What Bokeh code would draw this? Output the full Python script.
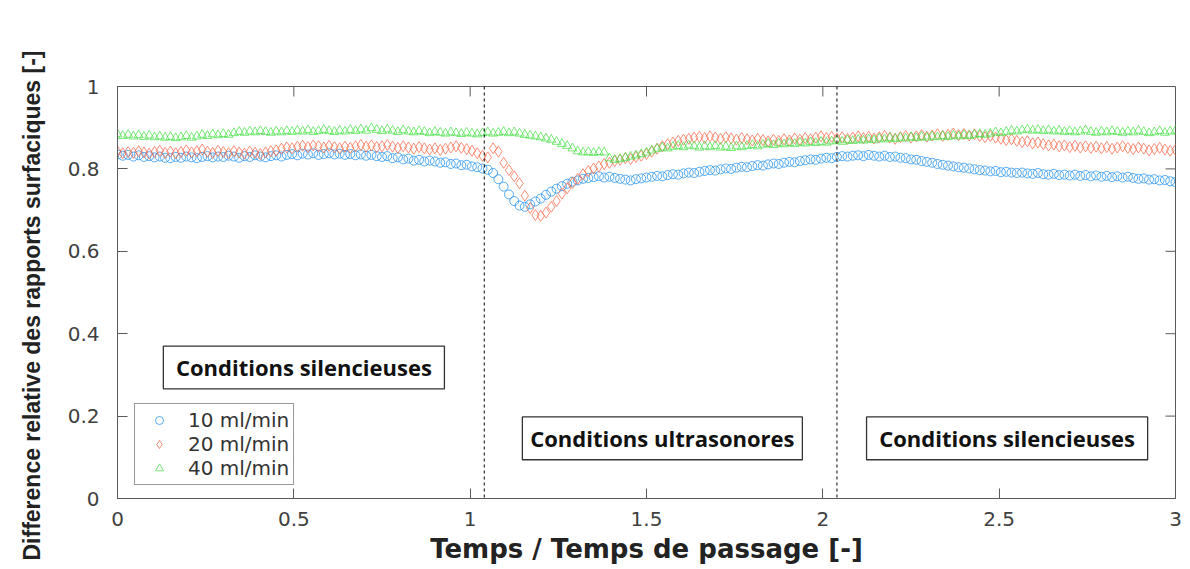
import numpy as np
from bokeh.plotting import figure
from bokeh.models import Span, Legend, LegendItem, ColumnDataSource, Range1d, Title
from bokeh.core.properties import value
from bokeh.embed import file_html
from bokeh.resources import INLINE

# ---------------- data ----------------
series_labels = ["10 ml/min", "20 ml/min", "40 ml/min"]

flow_10 = [
    0.835, 0.832, 0.834, 0.830, 0.833, 0.829, 0.831, 0.828, 0.830, 0.827,
    0.826, 0.829, 0.827, 0.830, 0.828, 0.826, 0.829, 0.831, 0.828, 0.830,
    0.829, 0.832, 0.830, 0.827, 0.831, 0.829, 0.833, 0.830, 0.828, 0.831,
    0.833, 0.830, 0.834, 0.836, 0.833, 0.837, 0.835, 0.838, 0.834, 0.836,
    0.838, 0.835, 0.837, 0.834, 0.836, 0.833, 0.835, 0.832, 0.834, 0.831,
    0.829, 0.831, 0.826, 0.828, 0.823, 0.825, 0.820, 0.822, 0.818, 0.820,
    0.818, 0.815, 0.816, 0.812, 0.813, 0.809, 0.810, 0.806, 0.804, 0.801,
    0.798, 0.790, 0.775, 0.757, 0.738, 0.722, 0.711, 0.708, 0.714, 0.721,
    0.728, 0.737, 0.745, 0.752, 0.758, 0.764, 0.769, 0.772, 0.776, 0.778,
    0.780, 0.782, 0.779, 0.781, 0.778, 0.776, 0.774, 0.772, 0.775, 0.777,
    0.779, 0.781, 0.783, 0.782, 0.785, 0.787, 0.786, 0.789, 0.791, 0.790,
    0.793, 0.795, 0.797, 0.796, 0.799, 0.801, 0.800, 0.803, 0.805, 0.804,
    0.807, 0.809, 0.808, 0.811, 0.813, 0.812, 0.815, 0.817, 0.816, 0.819,
    0.821, 0.823, 0.822, 0.825, 0.827, 0.826, 0.829, 0.831, 0.830, 0.832,
    0.833, 0.831, 0.834, 0.832, 0.830, 0.832, 0.829, 0.830, 0.827, 0.826,
    0.823, 0.822, 0.819, 0.817, 0.815, 0.812, 0.810, 0.808, 0.806, 0.804,
    0.803, 0.801, 0.799, 0.797, 0.796, 0.794, 0.795, 0.792, 0.793, 0.791,
    0.790, 0.791, 0.789, 0.788, 0.790, 0.787, 0.786, 0.788, 0.785, 0.786,
    0.784, 0.786, 0.783, 0.785, 0.782, 0.784, 0.781, 0.783, 0.780, 0.782,
    0.779, 0.781, 0.778, 0.776, 0.777, 0.774, 0.775, 0.772, 0.773, 0.770,
    0.768,
]

flow_20 = [
    0.842, 0.838, 0.841, 0.839, 0.843, 0.840, 0.837, 0.841, 0.844, 0.839,
    0.842, 0.838, 0.841, 0.845, 0.840, 0.843, 0.847, 0.842, 0.839, 0.844,
    0.841, 0.838, 0.843, 0.840, 0.837, 0.842, 0.839, 0.836, 0.840, 0.843,
    0.845, 0.849, 0.852, 0.850, 0.854, 0.856, 0.853, 0.857, 0.855, 0.852,
    0.856, 0.853, 0.850, 0.854, 0.851, 0.855, 0.858, 0.854, 0.857, 0.853,
    0.855, 0.858, 0.854, 0.851, 0.855, 0.852, 0.849, 0.853, 0.850, 0.847,
    0.850, 0.846, 0.849, 0.852, 0.855, 0.851, 0.848, 0.844, 0.838, 0.832,
    0.828, 0.850, 0.842, 0.815, 0.797, 0.782, 0.765, 0.735, 0.705, 0.688,
    0.686, 0.694, 0.708, 0.722, 0.740, 0.753, 0.766, 0.776, 0.787, 0.795,
    0.801, 0.806, 0.812, 0.815, 0.819, 0.822, 0.826, 0.824, 0.829, 0.832,
    0.836, 0.842, 0.849, 0.855, 0.860, 0.864, 0.868, 0.871, 0.873, 0.876,
    0.878, 0.875, 0.879, 0.876, 0.873, 0.877, 0.874, 0.871, 0.875, 0.872,
    0.869, 0.873, 0.870, 0.867, 0.871, 0.868, 0.872, 0.869, 0.874, 0.871,
    0.875, 0.872, 0.876, 0.879, 0.875, 0.878, 0.874, 0.877, 0.873, 0.876,
    0.879, 0.875, 0.878, 0.874, 0.877, 0.880, 0.876, 0.873, 0.877, 0.880,
    0.876, 0.879, 0.882, 0.878, 0.881, 0.884, 0.880, 0.883, 0.886, 0.882,
    0.885, 0.881, 0.884, 0.880, 0.877, 0.880, 0.876, 0.873, 0.870, 0.872,
    0.868, 0.865, 0.867, 0.862, 0.864, 0.860, 0.857, 0.859, 0.855, 0.857,
    0.853, 0.856, 0.852, 0.855, 0.851, 0.854, 0.850, 0.853, 0.849, 0.852,
    0.855, 0.851, 0.848, 0.852, 0.849, 0.845, 0.848, 0.851, 0.847, 0.844,
    0.846,
]

flow_40 = [
    0.884, 0.880, 0.883, 0.879, 0.882, 0.878, 0.881, 0.877, 0.879, 0.876,
    0.878, 0.875, 0.877, 0.880, 0.876, 0.879, 0.883, 0.880, 0.884, 0.882,
    0.885, 0.883, 0.887, 0.890, 0.888, 0.891, 0.889, 0.892, 0.890, 0.888,
    0.891, 0.889, 0.892, 0.890, 0.893, 0.891, 0.894, 0.890, 0.892, 0.895,
    0.892, 0.890, 0.893, 0.891, 0.895, 0.892, 0.896, 0.893, 0.899, 0.895,
    0.892, 0.896, 0.893, 0.890, 0.894, 0.891, 0.889, 0.892, 0.890, 0.887,
    0.890, 0.888, 0.886, 0.889, 0.887, 0.885, 0.888, 0.886, 0.884, 0.887,
    0.889, 0.886, 0.888, 0.890, 0.887, 0.889, 0.886, 0.883, 0.881, 0.879,
    0.877, 0.874, 0.871, 0.866, 0.861, 0.856, 0.850, 0.843, 0.840, 0.841,
    0.839, 0.841, 0.840, 0.826, 0.822, 0.824, 0.827, 0.830, 0.833, 0.836,
    0.840, 0.845, 0.849, 0.852, 0.850, 0.854, 0.856, 0.853, 0.857, 0.855,
    0.852, 0.855, 0.853, 0.856, 0.852, 0.854, 0.851, 0.855, 0.853, 0.856,
    0.858, 0.855, 0.859, 0.861, 0.858, 0.862, 0.860, 0.863, 0.861, 0.864,
    0.862, 0.865, 0.863, 0.866, 0.864, 0.867, 0.869, 0.866, 0.870, 0.868,
    0.871, 0.869, 0.872, 0.870, 0.874, 0.872, 0.875, 0.873, 0.876, 0.874,
    0.877, 0.875, 0.878, 0.876, 0.879, 0.877, 0.880, 0.878, 0.881, 0.879,
    0.882, 0.880, 0.883, 0.885, 0.883, 0.886, 0.889, 0.887, 0.890, 0.893,
    0.891, 0.894, 0.896, 0.893, 0.895, 0.892, 0.894, 0.891, 0.893, 0.890,
    0.892, 0.889, 0.891, 0.894, 0.890, 0.888, 0.891, 0.889, 0.892, 0.890,
    0.888, 0.891, 0.889, 0.893, 0.890, 0.887, 0.889, 0.892, 0.888, 0.891,
    0.893,
]

x_ticks = [0, 0.5, 1, 1.5, 2, 2.5, 3]
y_ticks = [0, 0.2, 0.4, 0.6, 0.8, 1]

# regime changes (dashed lines) and annotation boxes
phase_limits = [1.04, 2.04]
box_texts = ["Conditions silencieuses", "Conditions ultrasonores", "Conditions silencieuses"]
box_x0 = [0.130, 1.148, 2.124]
box_x1 = [0.927, 1.942, 2.921]
box_y0 = [0.266, 0.094, 0.094]
box_y1 = [0.370, 0.198, 0.198]

# ---------------- figure ----------------
AX = "#5a5a5a"
FRAME_W, FRAME_H = 1058, 413
p = figure(width=1182, height=566, x_range=Range1d(0, 3), y_range=Range1d(0, 1),
           output_backend="svg", toolbar_location=None, title=None,
           min_border_left=117, min_border_right=7, min_border_top=86, min_border_bottom=67)
p.background_fill_color = "white"
p.border_fill_color = "white"
p.outline_line_color = AX
p.xgrid.visible = False
p.ygrid.visible = False
p.xaxis.ticker = x_ticks
p.yaxis.ticker = y_ticks

for ax in (p.xaxis[0], p.yaxis[0]):
    ax.axis_line_color = AX
    ax.major_tick_line_color = AX
    ax.major_tick_in = 10
    ax.major_tick_out = 0
    ax.minor_tick_line_color = None
    ax.major_label_text_font = "DejaVu Sans"
    ax.major_label_text_font_size = "20px"
    ax.major_label_text_color = "#404040"

p.xaxis.axis_label = "Temps / Temps de passage [-]"
p.xaxis.axis_label_text_font = "DejaVu Sans"
p.xaxis.axis_label_text_font_style = "bold"
p.xaxis.axis_label_text_color = "#222222"
p.xaxis.axis_label_text_font_size = "26px"
p.xaxis.major_label_standoff = 13
p.xaxis.axis_label_standoff = 5

p.yaxis.major_label_standoff = 18

# y axis title (starts below the frame as in the reference)
p.add_layout(Title(text="Difference relative des rapports surfaciques [-]",
                   align="left", offset=-62, vertical_align="top", standoff=36,
                   text_font="Liberation Sans", text_font_style="bold",
                   text_font_size="23px", text_color="#222222"), "left")

# inward ticks on the top and right sides of the box
tick_len_y = 10 / FRAME_H
tick_len_x = 10 / FRAME_W * 3
p.segment(x0=x_ticks, y0=[1] * len(x_ticks), x1=x_ticks, y1=[1 - tick_len_y] * len(x_ticks),
          line_color=AX, line_width=1)
p.segment(x0=[3] * len(y_ticks), y0=y_ticks, x1=[3 - tick_len_x] * len(y_ticks), y1=y_ticks,
          line_color=AX, line_width=1)

# boxes with texts
box_src = ColumnDataSource(dict(x0=box_x0, x1=box_x1, y0=box_y0, y1=box_y1, txt=box_texts,
                                xc=[(a + b) / 2 for a, b in zip(box_x0, box_x1)],
                                yc=[(a + b) / 2 for a, b in zip(box_y0, box_y1)]))
p.quad(left="x0", right="x1", bottom="y0", top="y1", source=box_src,
       fill_color="white", line_color="#333333", line_width=1.3)
p.text(x="xc", y="yc", text="txt", source=box_src, text_align="center",
       text_baseline="middle", text_font=value("Open Sans"), text_font_style="bold",
       text_font_size="22px", text_color="#111111")

for loc in phase_limits:
    p.add_layout(Span(location=loc, dimension="height", line_color="black",
                      line_dash="3 3", line_width=1))

def tgrid(vals):
    return np.linspace(0, 3, len(vals))

r10 = p.scatter(tgrid(flow_10), flow_10, marker="circle", size=9, fill_color=None,
                line_color="#2090f0", line_alpha=0.75, line_width=1)
r20 = p.scatter(tgrid(flow_20), flow_20, marker="diamond", size=11, fill_color=None,
                line_color="#f7603e", line_alpha=0.7, line_width=1)
r40 = p.scatter(tgrid(flow_40), flow_40, marker="triangle", size=9, fill_color=None,
                line_color="#40e040", line_alpha=0.7, line_width=1)

legend = Legend(items=[LegendItem(label=series_labels[0], renderers=[r10]),
                       LegendItem(label=series_labels[1], renderers=[r20]),
                       LegendItem(label=series_labels[2], renderers=[r40])],
                location=(17, 13), border_line_color="#333333", border_line_width=1,
                background_fill_color="white", background_fill_alpha=1,
                label_text_font="DejaVu Sans", label_text_font_size="20px",
                label_text_color="#333333", glyph_width=40, glyph_height=20,
                label_height=20, spacing=0, padding=4, margin=0, label_standoff=9)
p.add_layout(legend)

open("out.html", "w").write(file_html(p, INLINE))
